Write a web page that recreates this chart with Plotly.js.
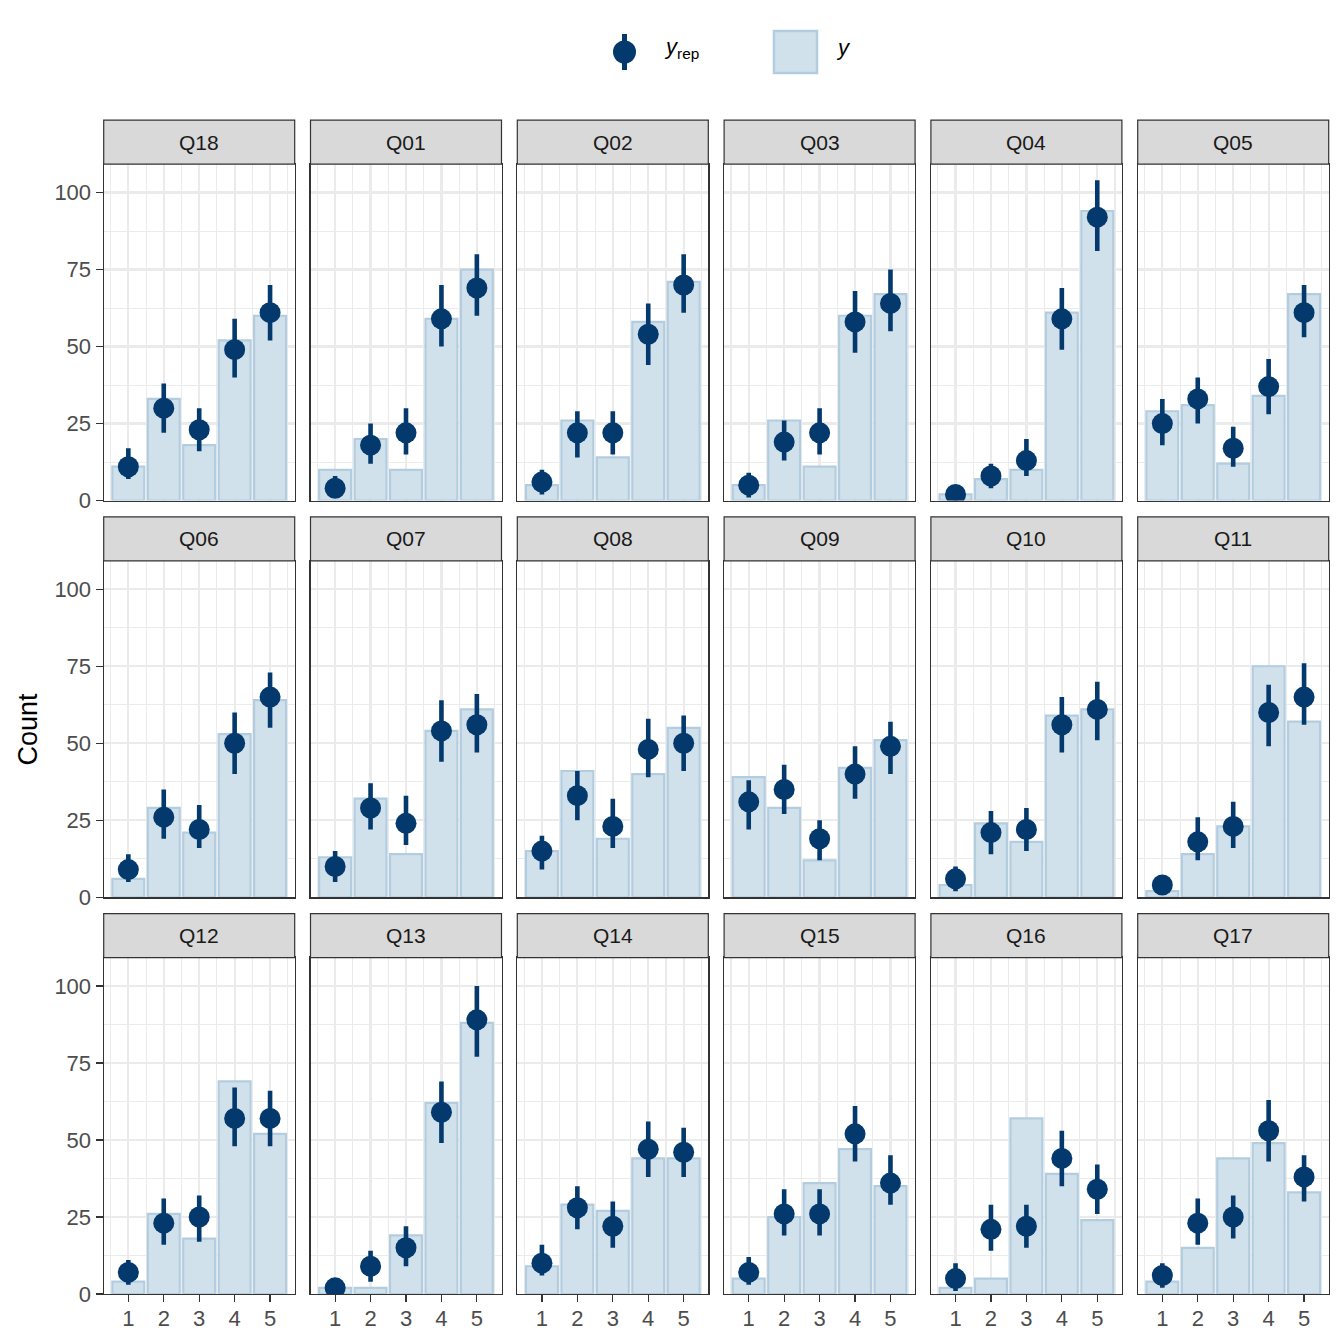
<!DOCTYPE html>
<html>
<head>
<meta charset="utf-8">
<script src="https://cdn.plot.ly/plotly-3.0.1.min.js"></script>
<style>html,body{margin:0;padding:0;background:#fff;}#chart{width:1344px;height:1344px;}</style>
</head>
<body>
<div id="chart"></div>
<script>
// ---- data ----
const panels = ['Q18','Q01','Q02','Q03','Q04','Q05','Q06','Q07','Q08','Q09','Q10','Q11','Q12','Q13','Q14','Q15','Q16','Q17'];
const categories = [1, 2, 3, 4, 5];
const xTickLabels = ['1', '2', '3', '4', '5'];
const yTickVals = [0, 25, 50, 75, 100];
// observed counts (y)
const yCounts = [
  [11, 33, 18, 52, 60],
  [10, 20, 10, 59, 75],
  [5, 26, 14, 58, 71],
  [5, 26, 11, 60, 67],
  [2, 7, 10, 61, 94],
  [29, 31, 12, 34, 67],
  [6, 29, 21, 53, 64],
  [13, 32, 14, 54, 61],
  [15, 41, 19, 40, 55],
  [39, 29, 12, 42, 51],
  [4, 24, 18, 59, 61],
  [2, 14, 23, 75, 57],
  [4, 26, 18, 69, 52],
  [2, 2, 19, 62, 88],
  [9, 29, 27, 44, 44],
  [5, 25, 36, 47, 35],
  [2, 5, 57, 39, 24],
  [4, 15, 44, 49, 33]
];
// posterior predictive (y_rep) median and interval
const repMedian = [
  [11, 30, 23, 49, 61],
  [4, 18, 22, 59, 69],
  [6, 22, 22, 54, 70],
  [5, 19, 22, 58, 64],
  [2, 8, 13, 59, 92],
  [25, 33, 17, 37, 61],
  [9, 26, 22, 50, 65],
  [10, 29, 24, 54, 56],
  [15, 33, 23, 48, 50],
  [31, 35, 19, 40, 49],
  [6, 21, 22, 56, 61],
  [4, 18, 23, 60, 65],
  [7, 23, 25, 57, 57],
  [2, 9, 15, 59, 89],
  [10, 28, 22, 47, 46],
  [7, 26, 26, 52, 36],
  [5, 21, 22, 44, 34],
  [6, 23, 25, 53, 38]
];
const repLow = [
  [7, 22, 16, 40, 52],
  [1, 12, 15, 50, 60],
  [2, 14, 15, 44, 61],
  [1, 13, 15, 48, 55],
  [0, 4, 8, 49, 81],
  [18, 25, 11, 28, 53],
  [5, 19, 16, 40, 55],
  [5, 22, 17, 44, 47],
  [9, 25, 16, 39, 41],
  [22, 27, 12, 32, 40],
  [2, 14, 15, 47, 51],
  [1, 12, 16, 49, 56],
  [3, 16, 17, 48, 48],
  [0, 4, 9, 49, 77],
  [6, 21, 15, 38, 38],
  [3, 19, 19, 43, 29],
  [1, 14, 15, 35, 26],
  [2, 16, 18, 43, 30]
];
const repHigh = [
  [17, 38, 30, 59, 70],
  [8, 25, 30, 70, 80],
  [10, 29, 29, 64, 80],
  [9, 26, 30, 68, 75],
  [5, 12, 20, 69, 104],
  [33, 40, 24, 46, 70],
  [14, 35, 30, 60, 73],
  [15, 37, 33, 64, 66],
  [20, 41, 32, 58, 59],
  [38, 43, 25, 49, 57],
  [10, 28, 29, 65, 70],
  [7, 26, 31, 69, 76],
  [11, 31, 32, 67, 66],
  [5, 14, 22, 69, 100],
  [16, 35, 30, 56, 54],
  [12, 34, 34, 61, 45],
  [10, 29, 29, 53, 42],
  [10, 31, 32, 63, 45]
];

// ---- styling / geometry ----
const W = 1344, H = 1344;
const FONT = 'Liberation Sans, Arial, Helvetica, sans-serif';
const DARK = '#03396c', BARFILL = '#d1e1ec', BARLINE = '#b3cde0';
const GRID = '#ebebeb';
const nCols = 6;
const colLeft = 103.7, colPitch = 206.8, panelW = 191;
const rowTop = 164.2, rowPitch = 396.7, panelH = 336.4, stripH = 44;
const yMax = 109.2;
const px = v => v / W;
const py = v => 1 - v / H;

const traces = [];
const layout = {
  width: W, height: H,
  margin: {l: 0, r: 0, t: 0, b: 0},
  paper_bgcolor: '#ffffff', plot_bgcolor: '#ffffff',
  showlegend: false,
  font: {family: FONT, color: '#4d4d4d'},
  bargap: 0,
  shapes: [], annotations: []
};

panels.forEach((name, i) => {
  const r = Math.floor(i / nCols), c = i % nCols;
  const n = i + 1;
  const xa = n === 1 ? 'x' : 'x' + n;
  const ya = n === 1 ? 'y' : 'y' + n;
  const left = colLeft + c * colPitch, right = left + panelW;
  const top = rowTop + r * rowPitch, bottom = top + panelH;
  const isLeft = c === 0, isBottom = r === 2;

  layout['xaxis' + (n === 1 ? '' : n)] = {
    domain: [px(left), px(right)], anchor: ya,
    range: [0.305, 5.695], fixedrange: true,
    tickmode: 'array', tickvals: categories, ticktext: xTickLabels,
    showticklabels: isBottom, ticks: isBottom ? 'outside' : '',
    ticklen: 7, tickwidth: 1.2, tickcolor: '#333333', ticklabelstandoff: -3,
    tickfont: {family: FONT, size: 22, color: '#4d4d4d'},
    showgrid: true, gridcolor: GRID, gridwidth: 2.2,
    minor: {tick0: 0.5, dtick: 1, showgrid: true, gridcolor: GRID, gridwidth: 1.1, ticks: ''},
    zeroline: false, showline: true, mirror: true, linecolor: '#333333', linewidth: 1.2
  };
  layout['yaxis' + (n === 1 ? '' : n)] = {
    domain: [py(bottom), py(top)], anchor: xa,
    range: [0, yMax], fixedrange: true,
    tickmode: 'array', tickvals: yTickVals,
    showticklabels: isLeft, ticks: isLeft ? 'outside' : '',
    ticklen: 7, tickwidth: 1.2, tickcolor: '#333333',
    tickfont: {family: FONT, size: 22, color: '#4d4d4d'},
    showgrid: true, gridcolor: GRID, gridwidth: 2.2,
    minor: {tick0: 12.5, dtick: 25, showgrid: true, gridcolor: GRID, gridwidth: 1.1, ticks: ''},
    zeroline: false, showline: true, mirror: true, linecolor: '#333333', linewidth: 1.2
  };

  traces.push({
    type: 'bar', x: categories, y: yCounts[i], width: 0.9,
    xaxis: xa, yaxis: ya, name: 'y',
    marker: {color: BARFILL, line: {color: BARLINE, width: 2.2}},
    hoverinfo: 'x+y'
  });
  traces.push({
    type: 'scatter', mode: 'markers', x: categories, y: repMedian[i],
    xaxis: xa, yaxis: ya, name: 'y_rep',
    marker: {color: DARK, size: 21, line: {width: 0}},
    error_y: {
      type: 'data', symmetric: false,
      array: repHigh[i].map((h, k) => h - repMedian[i][k]),
      arrayminus: repLow[i].map((l, k) => repMedian[i][k] - l),
      color: DARK, thickness: 4.6, width: 0
    },
    cliponaxis: true
  });

  // facet strip
  layout.shapes.push({
    type: 'rect', xref: 'paper', yref: 'paper',
    x0: px(left), x1: px(right), y0: py(top), y1: py(top - stripH),
    fillcolor: '#d9d9d9', line: {color: '#333333', width: 1.2}, layer: 'above'
  });
  layout.annotations.push({
    xref: 'paper', yref: 'paper', x: px((left + right) / 2), y: py(top - stripH / 2),
    text: name, showarrow: false, xanchor: 'center', yanchor: 'middle',
    font: {family: FONT, size: 21, color: '#1a1a1a'}
  });
});

// y axis title
layout.annotations.push({
  xref: 'paper', yref: 'paper', x: px(27), y: py(729.5),
  text: 'Count', textangle: -90, showarrow: false, xanchor: 'center', yanchor: 'middle',
  font: {family: FONT, size: 27, color: '#000000'}
});

// legend (drawn manually to match the reference keys)
layout.shapes.push({
  type: 'line', xref: 'paper', yref: 'paper',
  x0: px(624.5), x1: px(624.5), y0: py(34), y1: py(70),
  line: {color: DARK, width: 5}
});
layout.shapes.push({
  type: 'circle', xref: 'paper', yref: 'paper',
  x0: px(613), x1: px(636), y0: py(40.5), y1: py(63.5),
  fillcolor: DARK, line: {color: DARK, width: 0}
});
layout.shapes.push({
  type: 'rect', xref: 'paper', yref: 'paper',
  x0: px(774), x1: px(817), y0: py(31), y1: py(73),
  fillcolor: BARFILL, line: {color: BARLINE, width: 2.5}
});
layout.annotations.push({
  xref: 'paper', yref: 'paper', x: px(662), y: py(48),
  text: '<i>y</i><sub>rep</sub>', showarrow: false, xanchor: 'left', yanchor: 'middle',
  font: {family: FONT, size: 22, color: '#000000'}
});
layout.annotations.push({
  xref: 'paper', yref: 'paper', x: px(834), y: py(48),
  text: '<i>y</i>', showarrow: false, xanchor: 'left', yanchor: 'middle',
  font: {family: FONT, size: 22, color: '#000000'}
});

Plotly.newPlot('chart', traces, layout, {staticPlot: true, displayModeBar: false});
</script>
</body>
</html>
